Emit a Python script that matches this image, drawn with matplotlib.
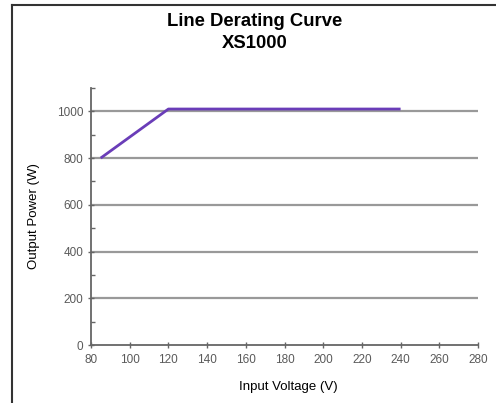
import matplotlib
matplotlib.use("Agg")
import matplotlib.pyplot as plt
from matplotlib.lines import Line2D

plt.rcParams['font.family'] = ['Liberation Sans', 'DejaVu Sans']

voltage = [85, 120, 240]
power = [800, 1010, 1010]
x_ticks = [80, 100, 120, 140, 160, 180, 200, 220, 240, 260, 280]
y_ticks = [0, 200, 400, 600, 800, 1000]

fig = plt.figure(figsize=(4.96, 4.03), dpi=100)
ax = fig.add_axes([91/496, 1-345/403, (478-91)/496, (345-88)/403])

for yv in y_ticks[1:]:
    ax.axhline(yv, color='#999999', lw=1.6, zorder=1)

ax.plot(voltage, power, color='#6a3db8', lw=2, zorder=3, solid_capstyle='butt')

ax.set_xlim(80, 280)
ax.set_ylim(0, 1100)
ax.set_xticks(x_ticks)
ax.set_yticks(y_ticks)
ax.set_yticks([100, 300, 500, 700, 900, 1100], minor=True)
for s in ['top', 'right']:
    ax.spines[s].set_visible(False)
for s in ['left', 'bottom']:
    ax.spines[s].set_color('#666666')
    ax.spines[s].set_linewidth(1.3)
ax.tick_params(axis='both', which='major', direction='inout', length=5, width=1, color='#666666',
               labelsize=8.5, labelcolor='#5a5a5a')
ax.tick_params(axis='x', which='major', pad=4)
ax.tick_params(axis='y', which='major', pad=3)
ax.tick_params(axis='y', which='minor', direction='in', length=3, width=1, color='#666666')

ax.set_ylabel('Output Power (W)', fontsize=9.5, labelpad=12)
fig.text(288/496, 1-387/403, 'Input Voltage (V)', ha='center', va='center', fontsize=9.5)
fig.text(255/496, 1-22/403, 'Line Derating Curve', ha='center', va='center', fontsize=13.3, fontweight='bold')
fig.text(255/496, 1-43/403, 'XS1000', ha='center', va='center', fontsize=13.3, fontweight='bold')

fig.add_artist(Line2D([12/496, 1.0], [1-5/403, 1-5/403], transform=fig.transFigure, color='#333333', lw=1.5))
fig.add_artist(Line2D([12/496, 12/496], [1-5/403, 0], transform=fig.transFigure, color='#333333', lw=1.5))

fig.savefig('out.png', dpi=100)
